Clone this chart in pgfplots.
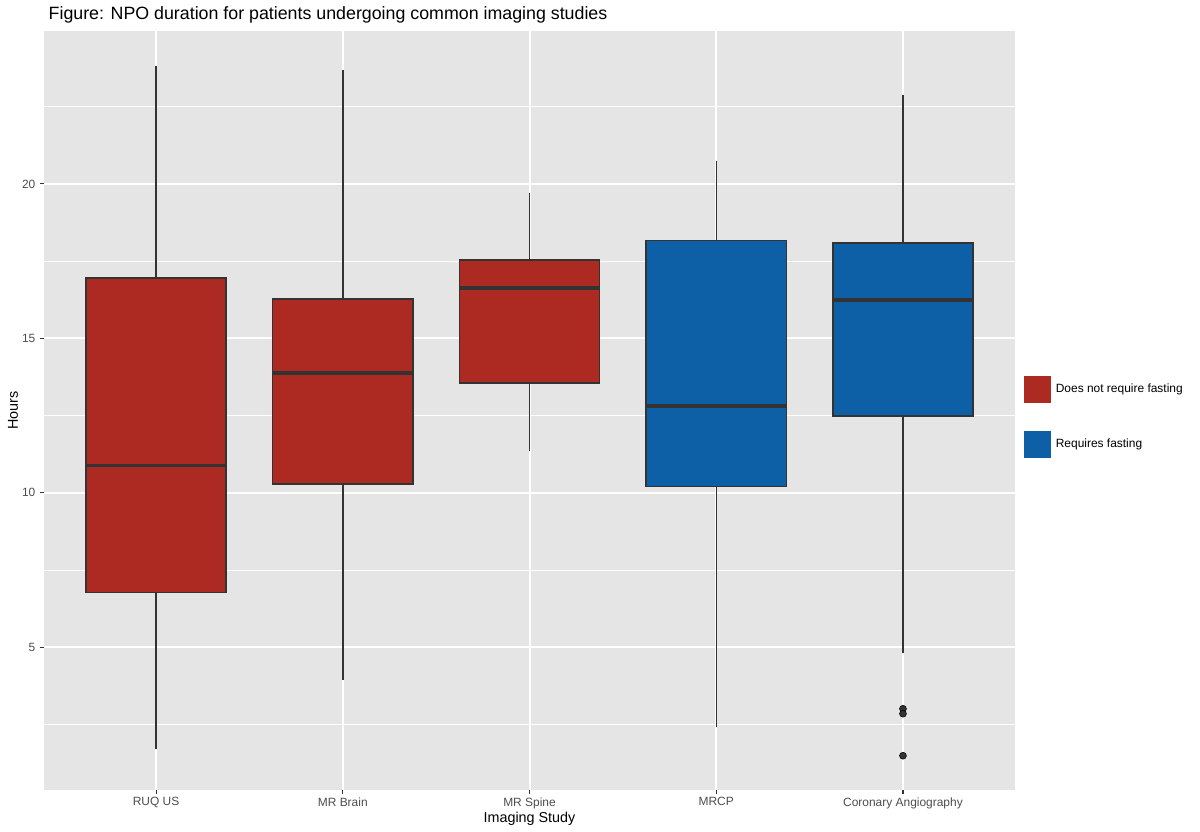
\documentclass[border=0pt]{standalone}
\usepackage{fontspec}
\setmainfont{Liberation Sans}
\usepackage{pgfplots}
\pgfplotsset{compat=1.18}
\usepgfplotslibrary{statistics}

\definecolor{panelgrey}{HTML}{E5E5E5}
\definecolor{grey20}{HTML}{333333}
\definecolor{grey30}{HTML}{4D4D4D}
\definecolor{nofast}{HTML}{AD2A22}
\definecolor{fast}{HTML}{0D5FA6}

\begin{document}
\begin{tikzpicture}
\useasboundingbox (0,0) rectangle (900bp,-624bp);
\begin{axis}[
    at={(33bp,-592.5bp)}, anchor=south west,
    scale only axis, width=728.25bp, height=569.25bp,
    xmin=0.4, xmax=5.6, ymin=0.38, ymax=24.95,
    axis background/.style={fill=panelgrey},
    axis line style={draw=none},
    xtick={1,2,3,4,5},
    xticklabels={RUQ US, MR Brain, MR Spine, MRCP, Coronary Angiography},
    ytick={5,10,15,20},
    minor ytick={2.5,7.5,12.5,17.5,22.5},
    grid=both,
    major grid style={white, line width=1.5bp},
    minor grid style={white, line width=0.75bp},
    tick pos=left, tick align=outside,
    major tick length=3bp, minor tick length=0pt,
    tick style={grey20, line width=0.8bp},
    /pgf/number format/assume math mode=true,
    ticklabel style={font=\fontsize{9}{10}\selectfont, text=grey30},
    xticklabel style={yshift=1bp},
    xlabel={Imaging Study}, ylabel={Hours},
    label style={font=\fontsize{10.8}{12}\selectfont},
    xlabel style={at={(axis description cs:0.5,-0.0375)}, anchor=center},
    ylabel style={at={(axis description cs:-0.032,0.5)}, anchor=center},
    title={Figure: NPO duration for patients undergoing common imaging studies},
    title style={at={(axis description cs:0,1)}, anchor=base west, yshift=3bp,
        font=\fontsize{13.4}{15}\selectfont},
    legend style={at={(axis description cs:1.0093,0.5455)}, anchor=north west,
        draw=none, fill=none, inner sep=0pt, row sep=21bp, column sep=3.75bp,
        nodes={inner sep=0pt}, font=\fontsize{9}{10}\selectfont},
    legend cell align=left,
    boxplot/draw direction=y,
    boxplot/every box/.style={line width=1.1bp},
    boxplot/every whisker/.style={line width=1.1bp},
    boxplot/every median/.style={line width=2.4bp},
]
\addlegendimage{legend image code/.code={\fill[nofast] (0bp,-9.75bp) rectangle (19.5bp,9.75bp);}}
\addlegendentry{Does not require fasting}
\addlegendimage{legend image code/.code={\fill[fast] (0bp,-9.75bp) rectangle (19.5bp,9.75bp);}}
\addlegendentry{Requires fasting}

% RUQ US
\addplot[boxplot prepared={draw position=1, lower whisker=1.72, lower quartile=6.77,
    median=10.89, upper quartile=16.96, upper whisker=23.83, box extend=0.75, whisker extend=0},
    fill=nofast, draw=grey20, mark=none] coordinates {};
% MR Brain
\addplot[boxplot prepared={draw position=2, lower whisker=3.95, lower quartile=10.28,
    median=13.88, upper quartile=16.27, upper whisker=23.70, box extend=0.75, whisker extend=0},
    fill=nofast, draw=grey20, mark=none] coordinates {};
% MR Spine
\addplot[boxplot prepared={draw position=3, lower whisker=11.35, lower quartile=13.55,
    median=16.63, upper quartile=17.54, upper whisker=19.71, box extend=0.75, whisker extend=0},
    fill=nofast, draw=grey20, mark=none] coordinates {};
% MRCP
\addplot[boxplot prepared={draw position=4, lower whisker=2.43, lower quartile=10.21,
    median=12.81, upper quartile=18.16, upper whisker=20.75, box extend=0.75, whisker extend=0},
    fill=fast, draw=grey20, mark=none] coordinates {};
% Coronary Angiography
\addplot[boxplot prepared={draw position=5, lower whisker=4.83, lower quartile=12.48,
    median=16.24, upper quartile=18.09, upper whisker=22.89, box extend=0.75, whisker extend=0},
    fill=fast, draw=grey20, mark=none] coordinates {};
% outliers of Coronary Angiography
\addplot[only marks, mark=*, mark size=2.6bp,
    mark options={fill=grey20, draw=none}]
    coordinates {(5,3.01) (5,2.85) (5,1.49)};
\end{axis}
\end{tikzpicture}
\end{document}
